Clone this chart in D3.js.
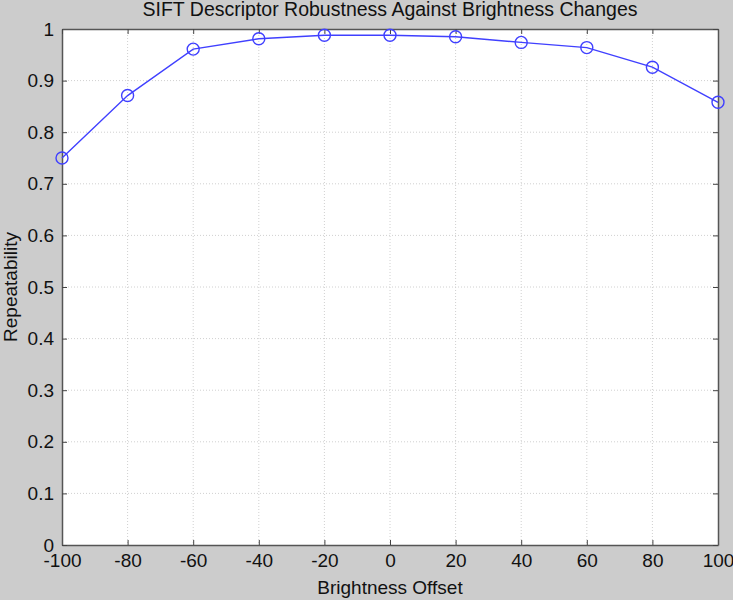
<!DOCTYPE html>
<html>
<head>
<meta charset="utf-8">
<script src="https://cdn.jsdelivr.net/npm/d3@7"></script>
<style>
  body { margin: 0; background: #cccccc; }
  text { font-family: "Liberation Sans", Arial, sans-serif; fill: #111; }
</style>
</head>
<body>
<div id="chart"></div>
<script>
// data
let offsets = [-100, -80, -60, -40, -20, 0, 20, 40, 60, 80, 100];
let repeatability = [0.750, 0.871, 0.961, 0.981, 0.988, 0.988, 0.985, 0.974, 0.964, 0.926, 0.858];
let xTicks = [-100, -80, -60, -40, -20, 0, 20, 40, 60, 80, 100];
let yTicks = [0, 0.1, 0.2, 0.3, 0.4, 0.5, 0.6, 0.7, 0.8, 0.9, 1];

let svgWidth = 733;
let svgHeight = 600;
let margin = { top: 29, right: 15, bottom: 55, left: 62 };
let chartWidth = svgWidth - margin.left - margin.right;
let chartHeight = svgHeight - margin.top - margin.bottom;

let svg = d3.select("#chart")
    .append("svg")
    .attr("width", svgWidth)
    .attr("height", svgHeight);

svg.append("rect")
    .attr("width", svgWidth)
    .attr("height", svgHeight)
    .attr("fill", "#cccccc");

let chartGroup = svg.append("g")
    .attr("transform", `translate(${margin.left},${margin.top})`);

let xScale = d3.scaleLinear().domain([-100, 100]).range([0, chartWidth]);
let yScale = d3.scaleLinear().domain([0, 1]).range([chartHeight, 0]);

chartGroup.append("rect")
    .attr("width", chartWidth)
    .attr("height", chartHeight)
    .attr("fill", "#fff");

// dotted grid
chartGroup.selectAll(".vgrid")
    .data(xTicks.slice(1, -1))
    .enter()
    .append("line")
    .attr("x1", d => xScale(d)).attr("x2", d => xScale(d))
    .attr("y1", 0).attr("y2", chartHeight)
    .attr("stroke", "#d0d0d0")
    .attr("stroke-dasharray", "1,2");

chartGroup.selectAll(".hgrid")
    .data(yTicks.slice(1, -1))
    .enter()
    .append("line")
    .attr("y1", d => yScale(d)).attr("y2", d => yScale(d))
    .attr("x1", 0).attr("x2", chartWidth)
    .attr("stroke", "#d0d0d0")
    .attr("stroke-dasharray", "1,2");

// axes, ticks pointing inward on all four sides
let fmt = d => String(+(+d).toFixed(1)).replace("\u2212", "-");
let xAxis = d3.axisBottom(xScale).tickValues(xTicks).tickSizeInner(-5).tickSizeOuter(0).tickPadding(9).tickFormat(fmt);
let yAxis = d3.axisLeft(yScale).tickValues(yTicks).tickSizeInner(-5).tickSizeOuter(0).tickPadding(8).tickFormat(fmt);

chartGroup.append("g")
    .attr("transform", `translate(0,${chartHeight})`)
    .call(xAxis);
chartGroup.append("g").call(yAxis);

chartGroup.append("g")
    .call(d3.axisTop(xScale).tickValues(xTicks).tickSizeInner(-5).tickSizeOuter(0).tickFormat(""));
chartGroup.append("g")
    .attr("transform", `translate(${chartWidth},0)`)
    .call(d3.axisRight(yScale).tickValues(yTicks).tickSizeInner(-5).tickSizeOuter(0).tickFormat(""));

chartGroup.selectAll(".domain").attr("stroke", "#555").attr("stroke-width", 1.5);
chartGroup.selectAll(".tick line").attr("stroke", "#444");
chartGroup.selectAll(".tick text").style("font-size", "19px").attr("fill", "#111");

// line + circle markers
let line = d3.line()
    .x((d, i) => xScale(offsets[i]))
    .y(d => yScale(d));

chartGroup.append("path")
    .datum(repeatability)
    .attr("d", line)
    .attr("fill", "none")
    .attr("stroke", "#4040ff")
    .attr("stroke-width", 1.4);

chartGroup.selectAll("circle")
    .data(repeatability)
    .enter()
    .append("circle")
    .attr("cx", (d, i) => xScale(offsets[i]))
    .attr("cy", d => yScale(d))
    .attr("r", 6)
    .attr("fill", "none")
    .attr("stroke", "#4040ff")
    .attr("stroke-width", 1.4);

// titles
svg.append("text")
    .attr("x", margin.left + chartWidth / 2)
    .attr("y", 16)
    .attr("text-anchor", "middle")
    .style("font-size", "19.5px")
    .text("SIFT Descriptor Robustness Against Brightness Changes");

svg.append("text")
    .attr("x", margin.left + chartWidth / 2)
    .attr("y", 594)
    .attr("text-anchor", "middle")
    .style("font-size", "19px")
    .text("Brightness Offset");

svg.append("text")
    .attr("transform", `translate(17,${margin.top + chartHeight / 2}) rotate(-90)`)
    .attr("text-anchor", "middle")
    .style("font-size", "19px")
    .text("Repeatability");
</script>
</body>
</html>
